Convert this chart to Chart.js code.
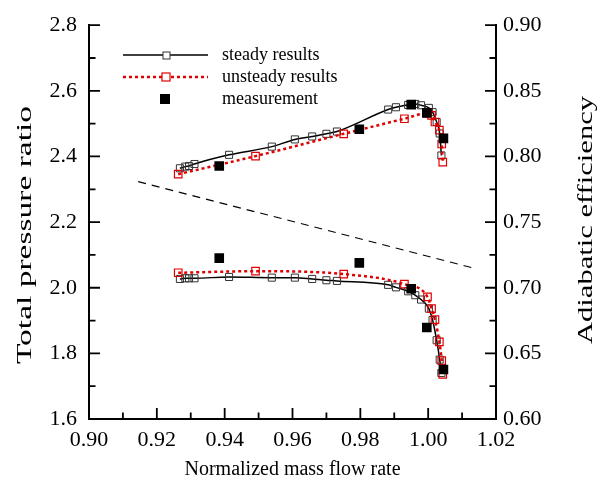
<!DOCTYPE html>
<html>
<head>
<meta charset="utf-8">
<script src="https://cdn.jsdelivr.net/npm/chart.js@4.4.1/dist/chart.umd.min.js"></script>
<style>
  html, body { margin: 0; padding: 0; background: #fff; }
  #wrap { width: 605px; height: 484px; }
</style>
</head>
<body>
<div id="wrap"><canvas id="chart" width="605" height="484"></canvas></div>
<script>
// values
const xTicks   = [0.90, 0.92, 0.94, 0.96, 0.98, 1.00, 1.02];
const prTicks  = [1.6, 1.8, 2.0, 2.2, 2.4, 2.6, 2.8];
const effTicks = [0.60, 0.65, 0.70, 0.75, 0.80, 0.85, 0.90];

const steadyFlow = [0.9268, 0.9284, 0.9295, 0.9311, 0.9413, 0.9539, 0.9607, 0.9658, 0.9700, 0.9731,
                    0.9882, 0.9905, 0.9941, 0.9962, 0.9979, 1.0002, 1.0013, 1.0025, 1.0034, 1.0039];
const steadyPR   = [2.364, 2.369, 2.371, 2.377, 2.405, 2.430, 2.452, 2.461, 2.469, 2.476,
                    2.543, 2.550, 2.557, 2.560, 2.556, 2.548, 2.535, 2.505, 2.470, 2.403];
const steadyEff  = [0.7067, 0.7072, 0.7072, 0.7072, 0.7082, 0.7077, 0.7077, 0.7067, 0.7057, 0.7052,
                    0.7022, 0.7003, 0.6973, 0.6943, 0.6910, 0.6841, 0.6754, 0.6600, 0.6452, 0.6350];

const unsteadyFlow = [0.9263, 0.9491, 0.9751, 0.9930, 0.9998, 1.0010, 1.0020, 1.0033, 1.0040, 1.0043];
const unsteadyPR   = [2.346, 2.401, 2.469, 2.515, 2.532, 2.525, 2.505, 2.480, 2.438, 2.383];
const unsteadyEff  = [0.7114, 0.7126, 0.7104, 0.7027, 0.6931, 0.6841, 0.6757, 0.6588, 0.6444, 0.6340];

const measFlow = [0.9384, 0.9797, 0.9950, 0.9996, 1.0045];
const measPR   = [2.371, 2.483, 2.558, 2.533, 2.455];
const measEff  = [0.7226, 0.7189, 0.6992, 0.6697, 0.6377];

const dashFlow = [0.9145, 1.0139];
const dashPR   = [2.3235, 2.0585];

const RED  = '#e00000';
const FONT = "'Liberation Serif', 'Times New Roman', serif";

const pts = (xs, ys) => xs.map((x, i) => ({ x, y: ys[i] }));

const steadyStyle = {
    borderColor: '#000', borderWidth: 1.5,
    pointStyle: 'rect', pointRadius: 5, pointBackgroundColor: 'rgba(0,0,0,0)',
    pointBorderColor: '#333', pointBorderWidth: 1,
    cubicInterpolationMode: 'monotone', order: 3
};
const unsteadyStyle = {
    borderColor: RED, borderWidth: 2.5, borderDash: [3, 3],
    pointStyle: 'rect', pointRadius: 5.3, pointBackgroundColor: 'rgba(0,0,0,0)',
    pointBorderColor: RED, pointBorderWidth: 1.2,
    cubicInterpolationMode: 'monotone', order: 2
};
const measStyle = {
    showLine: false, pointStyle: 'rect', pointRadius: 6.8,
    pointBackgroundColor: '#000', pointBorderColor: '#000', pointBorderWidth: 0, order: 1
};

// inward tick marks, rotated y titles and the legend box
const decorations = {
    id: 'decorations',
    afterDraw(chart) {
        const { ctx, chartArea: a, scales } = chart;
        ctx.save();
        ctx.strokeStyle = '#000';
        ctx.lineWidth = 1.8;
        const mark = (vals, scale, draw) => {
            vals.forEach((v, i) => {
                draw(scale.getPixelForValue(v), 11);
                if (i < vals.length - 1) draw(scale.getPixelForValue((v + vals[i + 1]) / 2), 6.5);
            });
        };
        ctx.beginPath();
        mark(xTicks,   scales.x,  (p, len) => { ctx.moveTo(p, a.bottom); ctx.lineTo(p, a.bottom - len); });
        mark(prTicks,  scales.y,  (p, len) => { ctx.moveTo(a.left, p);   ctx.lineTo(a.left + len, p); });
        mark(effTicks, scales.y1, (p, len) => { ctx.moveTo(a.right, p);  ctx.lineTo(a.right - len, p); });
        ctx.stroke();

        // y titles are stretched along the text direction in the original
        ctx.fillStyle = '#000';
        ctx.font = `22px ${FONT}`;
        ctx.textAlign = 'center';
        ctx.textBaseline = 'middle';
        const vTitle = (text, x, y, len) => {
            ctx.save();
            ctx.translate(x, y);
            ctx.rotate(-Math.PI / 2);
            ctx.scale(len / ctx.measureText(text).width, 1);
            ctx.fillText(text, 0, 0);
            ctx.restore();
        };
        vTitle('Total pressure ratio', 25, 235, 258);
        vTitle('Adiabatic efficiency', 586, 220, 248);

        // legend
        ctx.font = `18px ${FONT}`;
        ctx.textAlign = 'left';
        ctx.lineWidth = 1.5;
        ctx.beginPath(); ctx.moveTo(123, 55); ctx.lineTo(208, 55); ctx.stroke();
        ctx.fillStyle = '#fff'; ctx.fillRect(163, 52, 7, 7);
        ctx.strokeStyle = '#333'; ctx.lineWidth = 1; ctx.strokeRect(163, 52, 7, 7);

        ctx.strokeStyle = RED; ctx.lineWidth = 2.5; ctx.setLineDash([3, 3]);
        ctx.beginPath(); ctx.moveTo(123, 77); ctx.lineTo(208, 77); ctx.stroke();
        ctx.setLineDash([]); ctx.lineWidth = 1.2;
        ctx.fillStyle = '#fff'; ctx.fillRect(162, 73, 8, 8); ctx.strokeRect(162, 73, 8, 8);

        ctx.fillStyle = '#000';
        ctx.fillRect(160, 94, 10, 10);

        ctx.fillText('steady results', 222, 55);
        ctx.fillText('unsteady results', 222, 77);
        ctx.fillText('measurement', 222, 99);
        ctx.restore();
    }
};

const tickFont = { family: FONT, size: 22 };
const border   = { display: true, color: '#000', width: 2 };
const noGrid   = { drawOnChartArea: false, drawTicks: false };

new Chart(document.getElementById('chart'), {
    type: 'line',
    data: {
        datasets: [
            { data: pts(measFlow, measPR),  yAxisID: 'y',  ...measStyle },
            { data: pts(measFlow, measEff), yAxisID: 'y1', ...measStyle },
            { data: pts(unsteadyFlow, unsteadyPR),  yAxisID: 'y',  ...unsteadyStyle },
            { data: pts(unsteadyFlow, unsteadyEff), yAxisID: 'y1', ...unsteadyStyle },
            { data: pts(steadyFlow, steadyPR),  yAxisID: 'y',  ...steadyStyle },
            { data: pts(steadyFlow, steadyEff), yAxisID: 'y1', ...steadyStyle },
            { data: pts(dashFlow, dashPR), yAxisID: 'y', borderColor: '#000', borderWidth: 1.2,
              borderDash: [8, 6], pointRadius: 0, order: 4 }
        ]
    },
    options: {
        responsive: false,
        animation: false,
        layout: { padding: { top: 16, left: 0, right: 0, bottom: 0 } },
        plugins: { legend: { display: false }, tooltip: { enabled: false } },
        scales: {
            x: {
                type: 'linear', min: 0.90, max: 1.02,
                afterBuildTicks: s => { s.ticks = xTicks.map(value => ({ value })); },
                afterFit: s => { s.height = 65; },
                ticks: { font: tickFont, color: '#000', padding: 8, maxRotation: 0,
                         callback: v => v.toFixed(2) },
                grid: noGrid, border,
                title: { display: true, text: 'Normalized mass flow rate', color: '#000',
                         font: { family: FONT, size: 20 }, padding: { top: 0, bottom: 2 } }
            },
            y: {
                position: 'left', min: 1.6, max: 2.8,
                afterBuildTicks: s => { s.ticks = prTicks.map(value => ({ value })); },
                afterFit: s => { s.width = 89; },
                ticks: { font: tickFont, color: '#000', padding: 12, callback: v => v.toFixed(1) },
                grid: noGrid, border
            },
            y1: {
                position: 'right', min: 0.60, max: 0.90,
                afterBuildTicks: s => { s.ticks = effTicks.map(value => ({ value })); },
                afterFit: s => { s.width = 109; },
                ticks: { font: tickFont, color: '#000', padding: 7, callback: v => v.toFixed(2) },
                grid: noGrid, border
            }
        }
    },
    plugins: [decorations]
});
</script>
</body>
</html>
